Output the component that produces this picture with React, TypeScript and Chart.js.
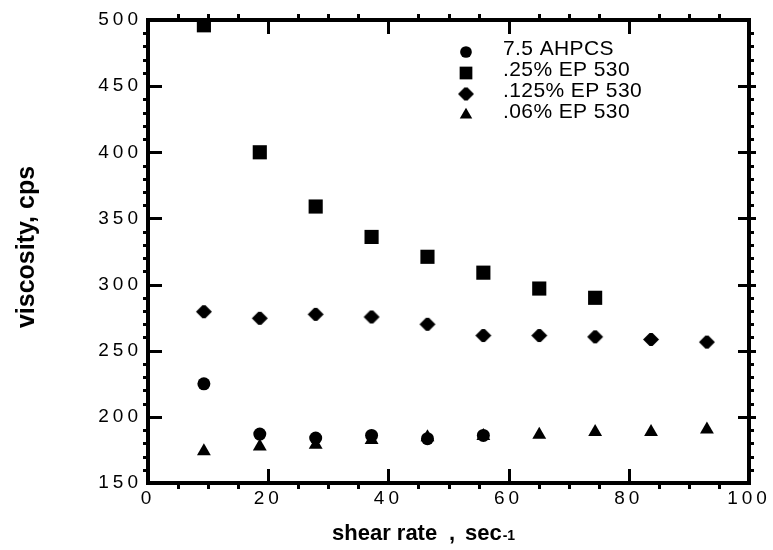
import { useEffect, useRef } from "react";
import { Chart, registerables } from "chart.js";
import { drawPoint } from "chart.js/helpers";

Chart.register(...registerables);

// ---- data ----
const shearRate = [9.3, 18.6, 27.9, 37.2, 46.5, 55.8, 65.1, 74.4, 83.7, 93.0];
const ahpcs = [225, 187, 184, 186, 183.5, 186];
const ep25 = [496, 400, 359, 336, 321, 309, 297, 290];
const ep125 = [279.5, 274.5, 277.5, 275.5, 270, 261.5, 261.5, 260.5, 258.5, 256.5];
const ep06 = [174, 177.5, 179, 182.5, 184.5, 185.5, 186.5, 188.5, 188.5, 190.5];
const seriesNames = ["7.5 AHPCS", ".25% EP 530", ".125% EP 530", ".06% EP 530"];
const xTitle = "shear rate";
const xTitleUnit = "sec";
const xTitleExp = "-1";
const yTitle = "viscosity, cps";

const FONT = "'Liberation Sans', Arial, Helvetica, sans-serif";

function makeDiamond(): HTMLCanvasElement {
  const c = document.createElement("canvas");
  c.width = 18;
  c.height = 15;
  const g = c.getContext("2d")!;
  g.fillStyle = "#000";
  g.beginPath();
  g.moveTo(1, 7.5);
  g.lineTo(7.5, 1);
  g.lineTo(10.5, 1);
  g.lineTo(17, 7.5);
  g.lineTo(10.5, 14);
  g.lineTo(7.5, 14);
  g.closePath();
  g.fill();
  return c;
}

const pts = (ys: number[]) => ys.map((v, i) => ({ x: shearRate[i], y: v }));

function drawFrame(chart: any) {
  const { ctx, chartArea: a, scales } = chart;
  const xs = scales.x;
  const ys = scales.y;
  const L = Math.round(a.left), R = Math.round(a.right), T = Math.round(a.top), B = Math.round(a.bottom);
  ctx.save();
  ctx.setTransform(1, 0, 0, 1, 0, 0);
  ctx.setLineDash([]);
  ctx.globalAlpha = 1;
  ctx.globalCompositeOperation = "source-over";
  ctx.fillStyle = "#000000";
  const lw = 4;
  // frame
  ctx.fillRect(L - 2, T - 2, R - L + 4, lw);
  ctx.fillRect(L - 2, B - 2, R - L + 4, lw);
  ctx.fillRect(L - 2, T - 2, lw, B - T + 4);
  ctx.fillRect(R - 2, T - 2, lw, B - T + 4);
  const tw = 3;
  for (let v = 5; v < 100; v += 5) {
    const px = Math.round(xs.getPixelForValue(v)) - 1;
    if (v % 20 === 0) {
      ctx.fillRect(px, B - 14, tw, 14);
      ctx.fillRect(px, T, tw, 14);
    } else {
      ctx.fillRect(px, B, tw, 6);
      ctx.fillRect(px, T - 6, tw, 6);
    }
  }
  for (let v = 160; v < 500; v += 10) {
    const py = Math.round(ys.getPixelForValue(v)) - 1;
    if (v % 50 === 0) {
      ctx.fillRect(L, py, 14, tw);
      ctx.fillRect(R - 11, py, 18, tw);
    } else {
      ctx.fillRect(L - 5, py, 5, tw);
      ctx.fillRect(R, py, 5, tw);
    }
  }
  ctx.restore();
}

const frameTicks = {
  id: "frameTicks",
  beforeDraw(chart: any) {
    chart.ctx.letterSpacing = "4px";
  },
  afterDraw(chart: any) {
    const { ctx } = chart;
    ctx.letterSpacing = "0px";
    drawFrame(chart);
    ctx.save();
    ctx.fillStyle = "#000";
    // y title
    ctx.save();
    ctx.translate(27, 247);
    ctx.rotate(-Math.PI / 2);
    ctx.font = `bold 25px ${FONT}`;
    ctx.textAlign = "center";
    ctx.textBaseline = "middle";
    ctx.fillText(yTitle, 0, 0);
    ctx.restore();
    // x title
    ctx.font = `bold 22px ${FONT}`;
    ctx.textAlign = "left";
    ctx.textBaseline = "alphabetic";
    const base = 540;
    ctx.fillText(xTitle, 332, base);
    ctx.fillText(",", 449, base);
    ctx.fillText(xTitleUnit, 465, base);
    const w = ctx.measureText(xTitleUnit).width;
    ctx.font = `bold 14px ${FONT}`;
    ctx.fillText(xTitleExp, 465 + w + 1, base);
    // legend
    const styles = chart.data.datasets.map((d: any) => d.pointStyle);
    const radii = chart.data.datasets.map((d: any) => d.pointRadius);
    ctx.font = `21px ${FONT}`;
    ctx.letterSpacing = "0.4px";
    ctx.textBaseline = "middle";
    seriesNames.forEach((name, i) => {
      const ty = 49 + i * 21;
      ctx.fillStyle = "#000";
      drawPoint(ctx, { pointStyle: styles[i], radius: radii[i] * 0.9, rotation: 0, borderWidth: 0 } as any, 466, ty + 3);
      ctx.fillText(name, 503, ty);
    });
    ctx.restore();
    ctx.letterSpacing = "0px";
  },
};

export default function App() {
  const ref = useRef<HTMLCanvasElement>(null);
  useEffect(() => {
    if (!ref.current) return;
    const diamond = makeDiamond();
    const common = { backgroundColor: "#000", borderColor: "#000", borderWidth: 0, showLine: false };
    const chart = new Chart(ref.current, {
      type: "scatter",
      data: {
        datasets: [
          { ...common, label: seriesNames[0], data: pts(ahpcs), pointStyle: "circle", pointRadius: 6.5 },
          { ...common, label: seriesNames[1], data: pts(ep25), pointStyle: "rect", pointRadius: 10 },
          { ...common, label: seriesNames[2], data: pts(ep125), pointStyle: diamond as any, pointRadius: 8 },
          { ...common, label: seriesNames[3], data: pts(ep06), pointStyle: "triangle", pointRadius: 8 },
        ] as any,
      },
      options: {
        animation: false,
        responsive: true,
        maintainAspectRatio: false,
        layout: { padding: { left: 0, top: 20, right: 24, bottom: 0 } },
        plugins: { legend: { display: false }, tooltip: { enabled: false } },
        elements: { point: { hoverRadius: 0 } },
        clip: false as any,
        scales: {
          x: {
            type: "linear",
            min: 0,
            max: 100,
            ticks: { stepSize: 20, color: "#000", font: { family: FONT, size: 19 }, padding: 4, maxRotation: 0 },
            grid: { display: false, drawTicks: false },
            border: { display: false },
            afterFit: (s: any) => {
              s.height = 67;
              s.paddingLeft = 0;
              s.paddingRight = 0;
            },
          },
          y: {
            type: "linear",
            min: 150,
            max: 500,
            ticks: { stepSize: 50, color: "#000", font: { family: FONT, size: 19 }, padding: 6 },
            grid: { display: false, drawTicks: false },
            border: { display: false },
            afterFit: (s: any) => {
              s.width = 148;
              s.paddingTop = 0;
              s.paddingBottom = 0;
            },
          },
        },
      },
      plugins: [frameTicks],
    });
    return () => chart.destroy();
  }, []);
  return (
    <div style={{ position: "fixed", left: 0, top: 0, width: 773, height: 550, background: "#fff" }}>
      <canvas ref={ref} />
    </div>
  );
}
